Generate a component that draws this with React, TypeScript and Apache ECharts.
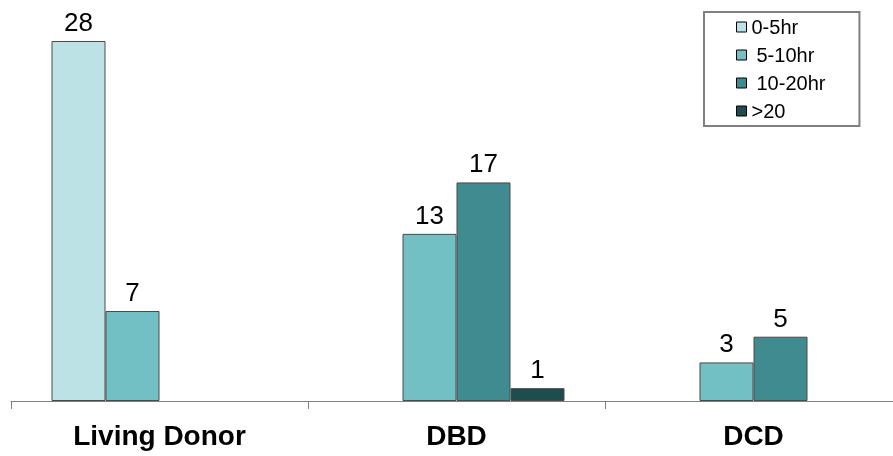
import React, { useEffect, useRef } from "react";
import * as echarts from "echarts";

const categories = ["Living Donor", "DBD", "DCD"];
const seriesNames = ["0-5hr", "5-10hr", "10-20hr", ">20"];
const values0to5 = [28, null, null];
const values5to10 = [7, 13, 3];
const values10to20 = [null, 17, 5];
const valuesOver20 = [null, 1, null];
const seriesColors = ["#BDE2E5", "#72BFC4", "#3F8B90", "#1F4C4E"];

const FONT = "'Liberation Sans', Arial, sans-serif";

export default function App() {
  const ref = useRef<HTMLDivElement>(null);
  useEffect(() => {
    if (!ref.current) return;
    const chart = echarts.init(ref.current, null, { renderer: "svg" });
    const allValues = [values0to5, values5to10, values10to20, valuesOver20];
    chart.setOption({
      animation: false,
      textStyle: { fontFamily: FONT },
      legend: {
        orient: "vertical",
        left: 704,
        top: 12,
        padding: [5, 34, 5, 32],
        itemWidth: 10,
        itemHeight: 10,
        itemGap: 8,
        borderColor: "#808080",
        borderWidth: 2,
        backgroundColor: "#fff",
        icon: "rect",
        itemStyle: { borderColor: "#000", borderWidth: 1 },
        textStyle: {
          fontSize: 20,
          color: "#000",
          fontFamily: FONT,
          rich: { s: { width: 5, fontSize: 20 } },
        },
        formatter: (name: string) => (name === "5-10hr" || name === "10-20hr" ? "{s|}" + name : name),
        data: seriesNames,
      },
      grid: { left: 11, right: -9, top: 41, bottom: 55, outerBoundsMode: "none" },
      xAxis: {
        type: "category",
        data: categories,
        axisLine: { lineStyle: { color: "#808080", width: 1 } },
        axisTick: { show: true, length: 8, lineStyle: { color: "#808080" }, alignWithLabel: false },
        axisLabel: { fontSize: 28, fontWeight: "bold", color: "#000", margin: 20, fontFamily: FONT },
      },
      yAxis: { type: "value", min: 0, max: 28, show: false },
      series: seriesNames.map((name, i) => ({
        name,
        type: "bar",
        data: allValues[i],
        barWidth: 54,
        barGap: "0%",
        itemStyle: { color: seriesColors[i], borderColor: "#4a4a4a", borderWidth: 1 },
        label: { show: true, position: "top", distance: 6, fontSize: 26, color: "#000", fontFamily: FONT },
      })),
    });
    return () => chart.dispose();
  }, []);
  return <div ref={ref} style={{ position: "fixed", left: 0, top: 0, width: 893, height: 456 }} />;
}
